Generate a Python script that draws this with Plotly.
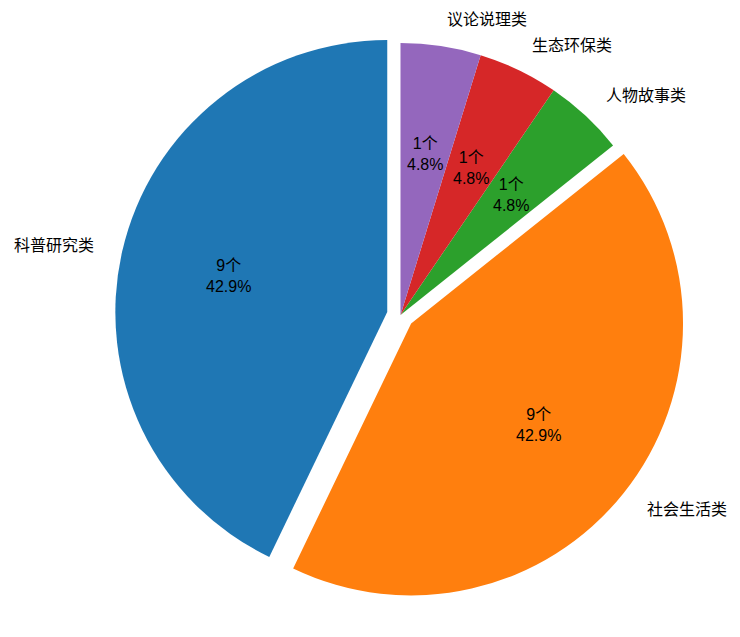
import math
import plotly.graph_objects as go

# ---- data ----
categories = ["科普研究类", "社会生活类", "人物故事类", "生态环保类", "议论说理类"]
counts = [9, 9, 1, 1, 1]
unit = "个"

# ---- style ----
colors = ["#1f77b4", "#ff7f0e", "#2ca02c", "#d62728", "#9467bd"]
pulls = [0.05, 0.05, 0, 0, 0]
W, H = 740, 637
ml, mr, mt, mb = 115, 54, 29, 36
FONT = "Liberation Sans, Arial, Noto Sans CJK SC"
LABEL_DIST = 1.1
PCT_DIST = 0.6

total = sum(counts)
# plotly (counterclockwise) puts the first slice's clockwise edge at the rotation
# angle; shift so the first slice starts at 12 o'clock and runs counterclockwise
rotation = -360 * counts[0] / total

fig = go.Figure(go.Pie(
    labels=categories,
    values=counts,
    sort=False,
    direction="counterclockwise",
    rotation=rotation,
    pull=pulls,
    marker=dict(colors=colors, line=dict(width=0)),
    textinfo="none",
    hoverinfo="label+value+percent",
    showlegend=False,
))

# geometry identical to plotly's pie layout, to place matplotlib-style labels
pw, ph = W - ml - mr, H - mt - mb
cx, cy = ml + pw / 2, mt + ph / 2
R = min(pw, ph) / 2 / (1 + max(pulls))


def to_paper(px, py):
    return (px - ml) / pw, 1 - (py - mt) / ph


annotations = []
cum = 0
for lab, v, p in zip(categories, counts, pulls):
    a1 = 90 + 360 * cum / total
    cum += v
    a2 = 90 + 360 * cum / total
    mid = math.radians((a1 + a2) / 2)
    c, s = math.cos(mid), math.sin(mid)
    ex, ey = cx + p * R * c, cy - p * R * s
    # outer label
    lx, ly = to_paper(ex + LABEL_DIST * R * c, ey - LABEL_DIST * R * s)
    annotations.append(dict(
        x=lx, y=ly, xref="paper", yref="paper", text=lab, showarrow=False,
        xanchor="left" if c > 1e-9 else ("right" if c < -1e-9 else "center"),
        yanchor="middle", font=dict(family=FONT, size=16, color="#000000"),
    ))
    # inner value + percent
    tx, ty = to_paper(ex + PCT_DIST * R * c, ey - PCT_DIST * R * s)
    annotations.append(dict(
        x=tx, y=ty, xref="paper", yref="paper",
        text=f"{v}{unit}<br>{100 * v / total:.1f}%", showarrow=False,
        xanchor="center", yanchor="middle",
        font=dict(family=FONT, size=16, color="#000000"),
    ))

fig.update_layout(
    width=W, height=H,
    margin=dict(l=ml, r=mr, t=mt, b=mb),
    paper_bgcolor="white", plot_bgcolor="white",
    annotations=annotations,
)

fig.write_html("out.html")
